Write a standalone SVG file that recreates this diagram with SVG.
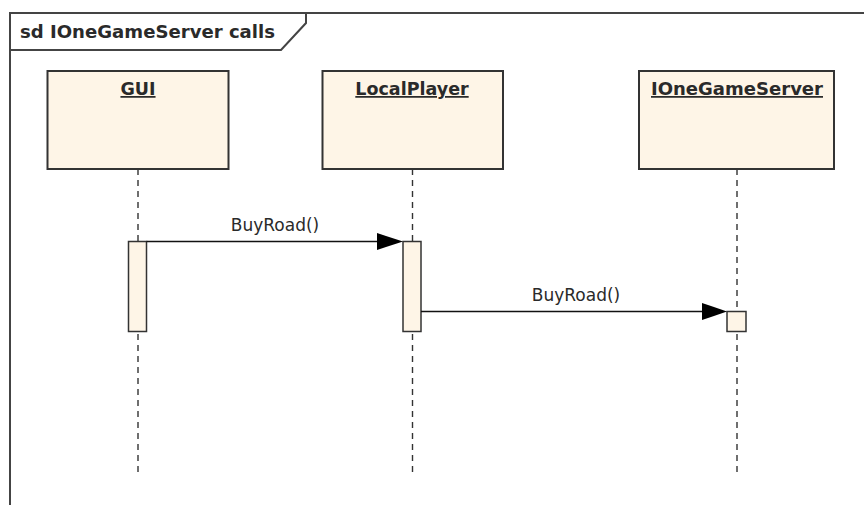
<svg xmlns="http://www.w3.org/2000/svg" width="864" height="505" viewBox="0 0 864 505">
<style>
.frame{fill:none;stroke:#444;stroke-width:2}
.box{fill:#FEF5E7;stroke:#333;stroke-width:2}
.lname{font-family:"DejaVu Sans",Verdana,sans-serif;font-weight:bold;font-size:17.5px;fill:#2a2a2a;text-anchor:middle;text-decoration:underline}
.life{stroke:#333;stroke-width:1.4;stroke-dasharray:6,5;fill:none}
.act{fill:#FEF5E7;stroke:#333;stroke-width:1.5}
.msg{stroke:#111;stroke-width:1.4;fill:none}
.mlabel{font-family:"DejaVu Sans",Verdana,sans-serif;font-size:17px;fill:#2a2a2a;text-anchor:middle}
.head{fill:#000}
</style>
<rect width="864" height="505" fill="#fff"/>
<g id="frame">
<path class="frame" d="M10,505 V13 H864"/>
<path class="frame" d="M10,50 H281 L306,23 V13" stroke-width="1.5"/>
<text x="20" y="37.5" font-family="'DejaVu Sans',Verdana,sans-serif" font-weight="bold" font-size="17.5" fill="#2a2a2a" textLength="255" lengthAdjust="spacingAndGlyphs">sd IOneGameServer calls</text>
</g>
<g id="lifelines">
<line class="life" x1="138" y1="169" x2="138" y2="472"/>
<line class="life" x1="412.5" y1="169" x2="412.5" y2="472"/>
<line class="life" x1="737" y1="169" x2="737" y2="472"/>
</g>
<g id="GUI">
<rect class="box" x="47.5" y="71" width="181" height="98"/>
<text class="lname" x="138" y="95">GUI</text>
</g>
<g id="LocalPlayer">
<rect class="box" x="322.5" y="71" width="180.5" height="98"/>
<text class="lname" x="412" y="95">LocalPlayer</text>
</g>
<g id="IOneGameServer">
<rect class="box" x="639" y="71" width="195" height="98"/>
<text class="lname" x="737" y="95" textLength="172" lengthAdjust="spacingAndGlyphs">IOneGameServer</text>
</g>
<g id="activations">
<rect class="act" x="128.5" y="241.5" width="18" height="90"/>
<rect class="act" x="403" y="241.5" width="18" height="90"/>
<rect class="act" x="727" y="311.5" width="19" height="20"/>
</g>
<g id="connectors">
<line class="msg" x1="146.5" y1="241.5" x2="380" y2="241.5"/>
<polygon class="head" points="377,233 386,236 403,241.5 386,247 377,250"/>
<text class="mlabel" x="275" y="231">BuyRoad()</text>
<line class="msg" x1="421" y1="311.5" x2="705" y2="311.5"/>
<polygon class="head" points="702,303 711,306 727,311.5 711,317 702,320"/>
<text class="mlabel" x="576" y="301">BuyRoad()</text>
</g>
</svg>
